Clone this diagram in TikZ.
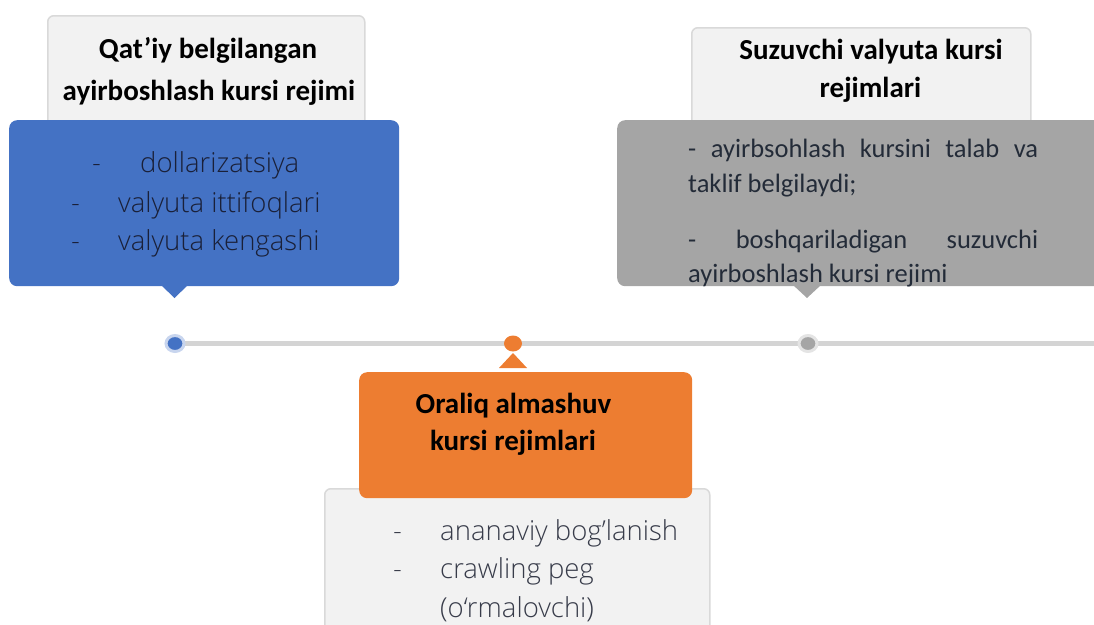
\documentclass[tikz,border=0pt]{standalone}
\usepackage{fontspec}
\usetikzlibrary{shapes.geometric}
\setmainfont{Carlito}
\newfontfamily\lightfont{Open Sans Light}
\definecolor{boxfill}{HTML}{F2F2F2}
\definecolor{boxedge}{HTML}{D9D9D9}
\definecolor{bluefill}{HTML}{4472C4}
\definecolor{orangefill}{HTML}{ED7D31}
\definecolor{greyfill}{HTML}{A5A5A5}
\definecolor{linecol}{HTML}{D4D4D4}
\definecolor{bluehalo}{HTML}{C8D5EE}
\definecolor{greyhalo}{HTML}{E4E4E4}
\definecolor{bluetext}{HTML}{1A2038}
\definecolor{greytext}{HTML}{232B38}
\definecolor{lowtext}{HTML}{383C4A}
\begin{document}
\begin{tikzpicture}[x=1pt,y=-1pt,
  lightbox/.style={draw=boxedge, fill=boxfill, line width=1.5pt, rounded corners=6pt, anchor=north west, inner sep=0pt},
  colbox/.style={draw=none, rounded corners=8pt, anchor=north west, inner sep=0pt},
  titletext/.style={font=\bfseries\fontsize{29pt}{35pt}\selectfont, text=black, inner sep=0pt, anchor=base},
  lighttext/.style={font=\lightfont\fontsize{27.5pt}{33pt}\selectfont, inner sep=0pt, anchor=base west},
  greybody/.style={font=\fontsize{26.5pt}{32pt}\selectfont, text=greytext, inner sep=0pt, anchor=base west},
  timeline/.style={draw=linecol, line width=5pt},
  dotstyle/.style={ellipse, inner sep=0pt, minimum width=18pt, minimum height=16pt}
]
\useasboundingbox (0,0) rectangle (1094,624);
\clip (0,0) rectangle (1094,624);

% top-left group
\node[lightbox, minimum width=317pt, minimum height=130pt] (tlbox) at (47,15) {};
\node[titletext] (tla) at (208,58) {Qat’iy belgilangan};
\node[titletext] (tlb) at (209,100) {ayirboshlash kursi rejimi};
\node[colbox, fill=bluefill, minimum width=390pt, minimum height=166pt] (bluebox) at (9,120) {};
\fill[bluefill] (161,285) -- (174.5,298) -- (188,285) -- cycle;
\node[lighttext, text=bluetext] (bd1) at (92,172) {-};
\node[lighttext, text=bluetext] (bt1) at (140,172) {dollarizatsiya};
\node[lighttext, text=bluetext] (bd2) at (71,212) {-};
\node[lighttext, text=bluetext] (bt2) at (118,212) {valyuta ittifoqlari};
\node[lighttext, text=bluetext] (bd3) at (71,250) {-};
\node[lighttext, text=bluetext] (bt3) at (118,250) {valyuta kengashi};

% top-right group
\node[lightbox, minimum width=339pt, minimum height=120pt] (trbox) at (691,27) {};
\node[titletext] (tra) at (871,59) {Suzuvchi valyuta kursi};
\node[titletext] (trb) at (870.5,97) {rejimlari};
\node[colbox, fill=greyfill, minimum width=500pt, minimum height=166pt] (greybox) at (617,120) {};
\fill[greyfill] (793,285) -- (807,298) -- (821,285) -- cycle;
\node[greybody] (g1) at (688,157) {\makebox[350pt][s]{- ayirbsohlash kursini talab va}};
\node[greybody] (g2) at (688,192) {taklif belgilaydi;};
\node[greybody] (g3) at (688,248) {\makebox[350pt][s]{- boshqariladigan suzuvchi}};
\node[greybody] (g4) at (688,282) {ayirboshlash kursi rejimi};

% timeline
\coordinate (pb) at (175,343.5);
\coordinate (po) at (513,343.5);
\coordinate (pg) at (808,343.5);
\coordinate (lineend) at (1100,343.5);
\draw[timeline] (pb) -- (lineend);
\node[dotstyle, fill=bluefill, draw=bluehalo, line width=3pt] (dotb) at (pb) {};
\node[dotstyle, fill=orangefill] (doto) at (po) {};
\node[dotstyle, fill=greyfill, draw=greyhalo, line width=3pt] (dotg) at (pg) {};

% bottom group
\node[lightbox, minimum width=385pt, minimum height=160pt] (lowbox) at (324,488) {};
\fill[orangefill] (499,368) -- (513,353) -- (527,368) -- cycle;
\node[colbox, fill=orangefill, minimum width=333pt, minimum height=126pt] (orbox) at (359,372) {};
\node[titletext] (ora) at (513.5,413) {Oraliq almashuv};
\node[titletext] (orb) at (513,450) {kursi rejimlari};
\node[lighttext, text=lowtext] (ld1) at (393,540) {-};
\node[lighttext, text=lowtext] (lt1) at (440,540) {ananaviy bog’lanish};
\node[lighttext, text=lowtext] (ld2) at (393,578) {-};
\node[lighttext, text=lowtext] (lt2) at (440,578) {crawling peg};
\node[lighttext, text=lowtext] (lt3) at (440,617) {(o‘rmalovchi)};
\end{tikzpicture}
\end{document}
